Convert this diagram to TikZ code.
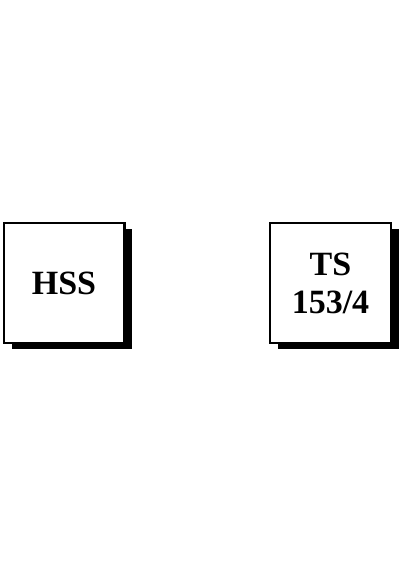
\documentclass[tikz,border=0pt]{standalone}
\usepackage{fontspec}
\setmainfont{Liberation Serif}
\usetikzlibrary{shapes,positioning,shadows}

\begin{document}
\begin{tikzpicture}[x=1pt, y=1pt,
        unitbox/.style={draw, line width=2.4pt, fill=white, minimum width=120.6pt, minimum height=119.6pt,
            inner sep=0pt, align=center, font=\bfseries\fontsize{34}{38}\selectfont,
            drop shadow={shadow xshift=8pt, shadow yshift=-6pt, fill=black, opacity=1}}]
        % Page frame
        \useasboundingbox (0,0) rectangle (400,570);

        % Left unit
        \node[unitbox] (hss) at (64, 287) {HSS};

        % Right unit
        \node[unitbox] (ts) at (330.5, 287) {TS\\153/4};
    \end{tikzpicture}
\end{document}
